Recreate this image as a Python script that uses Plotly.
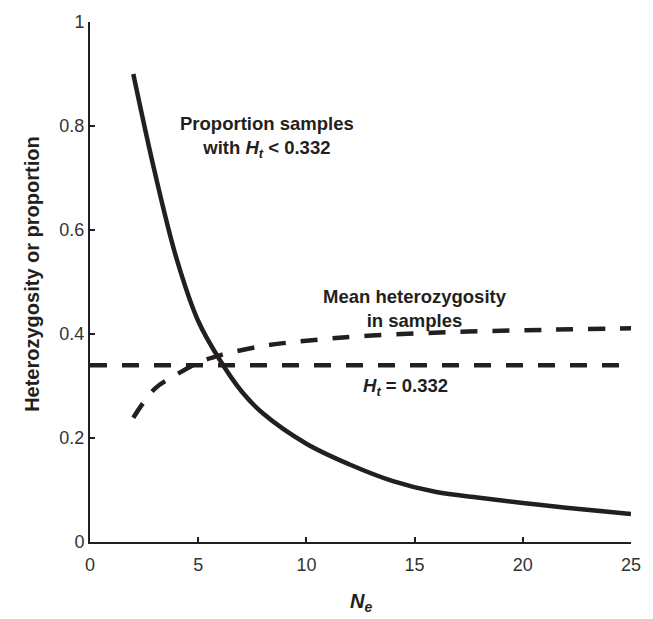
import plotly.graph_objects as go

# Data
ne_prop = [2, 3, 4, 5, 6, 7, 8, 10, 12, 14, 16, 18, 20, 22, 25]
prop_below = [0.90, 0.71, 0.545, 0.425, 0.35, 0.29, 0.247, 0.189, 0.149, 0.117,
              0.096, 0.085, 0.075, 0.066, 0.054]

ne_het = [2, 3, 4, 5, 6, 8, 10, 13, 17, 21, 25]
mean_het = [0.239, 0.295, 0.322, 0.345, 0.359, 0.377, 0.387, 0.397, 0.404, 0.408, 0.411]

ne_ht = [0, 25]
ht_value = [0.34, 0.34]

x_ticks = [0, 5, 10, 15, 20, 25]
y_ticks = [0, 0.2, 0.4, 0.6, 0.8, 1]

INK = "#231f20"
FONT = "Liberation Sans, Arial, sans-serif"

fig = go.Figure()
fig.add_trace(go.Scatter(x=ne_ht, y=ht_value, mode="lines",
                         line=dict(color=INK, width=4.5, dash="17px,15px"),
                         hoverinfo="skip"))
fig.add_trace(go.Scatter(x=ne_het, y=mean_het, mode="lines",
                         line=dict(color=INK, width=4.5, dash="17px,15px", shape="spline"),
                         hoverinfo="skip"))
fig.add_trace(go.Scatter(x=ne_prop, y=prop_below, mode="lines",
                         line=dict(color=INK, width=4.5, shape="spline"),
                         hoverinfo="skip"))

ann_font = dict(family=FONT, size=18.5, color=INK)
fig.add_annotation(x=8.2, y=0.778, xref="x", yref="y",
                   text="<b>Proportion samples<br>with <i>H<sub>t</sub></i> < 0.332</b>",
                   showarrow=False, font=ann_font, align="center")
fig.add_annotation(x=15.0, y=0.45, xref="x", yref="y",
                   text="<b>Mean heterozygosity<br>in samples</b>",
                   showarrow=False, font=ann_font, align="center")
fig.add_annotation(x=14.6, y=0.298, xref="x", yref="y",
                   text="<b><i>H<sub>t</sub></i> = 0.332</b>",
                   showarrow=False, font=ann_font, align="center")

# axis titles
fig.add_annotation(x=-0.13, y=0.515, xref="paper", yref="paper",
                   text="<b>Heterozygosity or proportion</b>", textangle=-90,
                   showarrow=False, font=dict(family=FONT, size=20, color=INK))
fig.add_annotation(x=0.5, y=-0.145, xref="paper", yref="paper",
                   text="<b><i>N<sub>e</sub></i></b>",
                   showarrow=False, font=dict(family=FONT, size=20, color=INK))

axis_common = dict(showline=True, linecolor=INK, linewidth=2, ticks="inside",
                   ticklen=5, tickwidth=2, tickcolor=INK, showgrid=False,
                   zeroline=False, mirror=False,
                   tickfont=dict(family=FONT, size=18, color="#333333"))

fig.update_xaxes(range=[0, 25], tickvals=x_ticks, ticktext=[str(v) for v in x_ticks],
                 ticklabelstandoff=5, **axis_common)
fig.update_yaxes(range=[0, 1], tickvals=y_ticks, ticktext=["0", "0.2", "0.4", "0.6", "0.8", "1"],
                 **axis_common)

fig.update_layout(width=653, height=619, showlegend=False,
                  plot_bgcolor="white", paper_bgcolor="white",
                  margin=dict(l=90, r=20, t=17, b=77))

fig.write_html("out.html", config={"displayModeBar": False},
               post_script="document.body.style.margin='0px';document.body.style.overflow='hidden';")
